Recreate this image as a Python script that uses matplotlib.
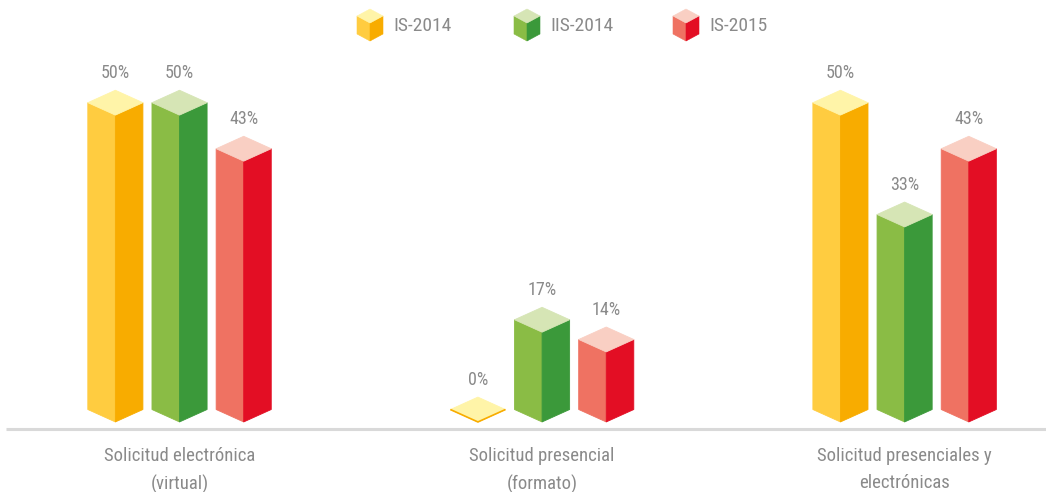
import matplotlib
matplotlib.use("Agg")
import matplotlib.pyplot as plt
from matplotlib import font_manager
from matplotlib.patches import Polygon

# data
categories = ["Solicitud electrónica\n(virtual)",
              "Solicitud presencial\n(formato)",
              "Solicitud presenciales y\nelectrónicas"]
series = ["IS-2014", "IIS-2014", "IS-2015"]
values = {
    "IS-2014": [50, 0, 50],
    "IIS-2014": [50, 17, 33],
    "IS-2015": [43, 14, 43],
}
labels = {
    "IS-2014": ["50%", "0%", "50%"],
    "IIS-2014": ["50%", "17%", "33%"],
    "IS-2015": ["43%", "14%", "43%"],
}

# left face, right face, top face
colors = {
    "IS-2014": ("#FFCC40", "#F8AC00", "#FFF4A8"),
    "IIS-2014": ("#8ABC45", "#3B993A", "#D6E5B5"),
    "IS-2015": ("#EF7262", "#E30E24", "#F9CFC3"),
}


def pick_font(names):
    for n in names:
        try:
            font_manager.findfont(n, fallback_to_default=False)
            return n
        except Exception:
            pass
    return "DejaVu Sans"


font = pick_font(["Liberation Sans Narrow", "Roboto Condensed", "Roboto"])
plt.rcParams["font.family"] = [font, "DejaVu Sans"]
txt_col = "#8a8a8a"

fig = plt.figure(figsize=(10.46, 4.92), dpi=100)
ax = fig.add_axes([0, 0, 1, 1])
ax.set_xlim(-0.4952, 2.390)
floor = 3.35
ax.set_ylim(-7.3, 67.5)
ax.axis("off")

d = 1.89        # depth of the top face, in value units
w = 0.152       # bar width, in group units
step = 0.177    # distance between bars in a group


def cube(a, xc, half, yb, yt, dd, cols, lw=0.6):
    xl, xr = xc - half, xc + half
    left = [(xl, yb + dd), (xc, yb), (xc, yt), (xl, yt + dd)]
    right = [(xc, yb), (xr, yb + dd), (xr, yt + dd), (xc, yt)]
    top = [(xl, yt + dd), (xc, yt), (xr, yt + dd), (xc, yt + 2 * dd)]
    for pts, c in zip((left, right, top), cols):
        a.add_patch(Polygon(pts, closed=True, facecolor=c, edgecolor=c,
                            linewidth=lw))


for j, s in enumerate(series):
    for i, v in enumerate(values[s]):
        xc = i + (j - 1) * step
        yt = max(v, floor)
        cube(ax, xc, w / 2, floor, yt, d, colors[s])
        if v <= floor:
            ax.plot([xc - w / 2, xc, xc + w / 2], [floor + d, floor, floor + d],
                    color=colors[s][1], lw=1.2, solid_capstyle="butt")
        ax.annotate(labels[s][i], (xc, yt + 2 * d), xytext=(0, 6),
                    textcoords="offset points", ha="center", va="bottom",
                    fontsize=13, color=txt_col)

# base line
ax.plot([-0.48, 2.39], [2.3, 2.3], color="#d9d9d9", lw=2.2,
        solid_capstyle="butt")

for i, c in enumerate(categories):
    ax.text(i, -0.4, c, ha="center", va="top", fontsize=13.5,
            color=txt_col, linespacing=1.65)

# legend
leg = fig.add_axes([0, 0, 1, 1])
leg.set_xlim(0, 1046)
leg.set_ylim(492, 0)
leg.axis("off")
leg_x = [370, 527, 686]
for s, lx in zip(series, leg_x):
    cube(leg, lx, 13, 41, 23, -7, colors[s], lw=0.4)
    leg.text(lx + 23, 26, s, ha="left", va="center", fontsize=14,
             color=txt_col)

fig.savefig("out.png", dpi=100)
